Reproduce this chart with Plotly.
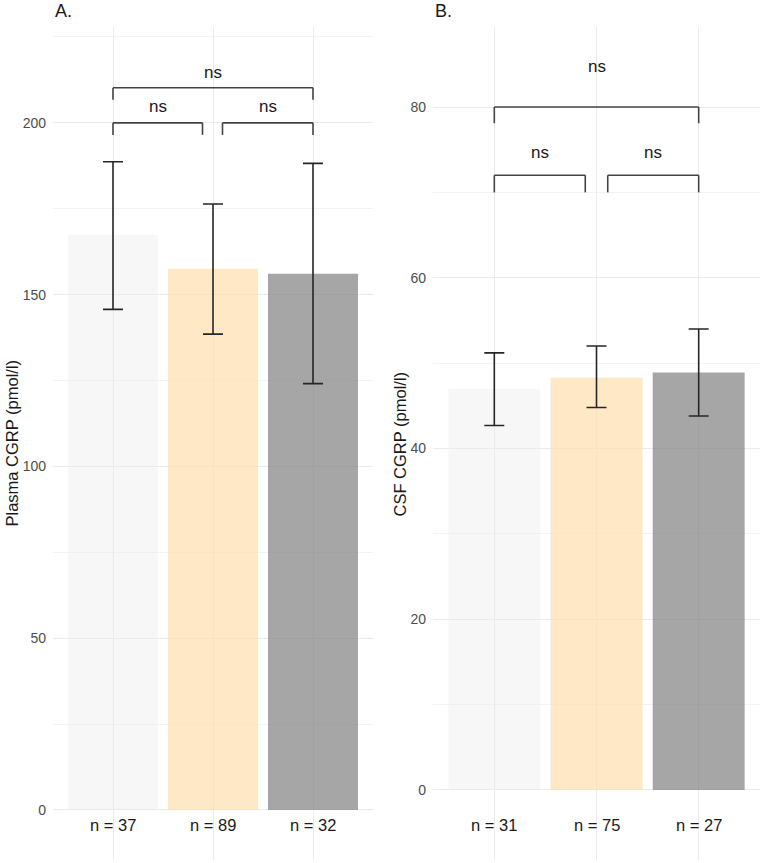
import plotly.graph_objects as go

# ---- data ----
positions = [1, 2, 3]
plasma_n = ["n = 37", "n = 89", "n = 32"]
plasma_mean = [167.4, 157.5, 156.1]
plasma_upper = [188.7, 176.4, 188.2]
plasma_lower = [145.7, 138.5, 124.1]

csf_n = ["n = 31", "n = 75", "n = 27"]
csf_mean = [47.0, 48.3, 48.9]
csf_upper = [51.2, 52.0, 54.0]
csf_lower = [42.7, 44.8, 43.8]

bar_colors = ["rgba(235,235,235,0.4)", "rgba(255,222,173,0.7)", "rgba(128,128,128,0.7)"]

# comparisons: (x0, x1, y, drop, label, label_y)
plasma_brackets = [(1, 1.895, 200.0, 3.5, "ns", 204.7),
                   (2.095, 3, 200.0, 3.5, "ns", 204.7),
                   (1, 3, 210.2, 3.5, "ns", 214.6)]
csf_brackets = [(1, 1.89, 72.0, 2.0, "ns", 74.7),
                (2.11, 3, 72.0, 2.0, "ns", 74.7),
                (1, 3, 80.0, 1.9, "ns", 84.7)]

FONT = "Liberation Sans, Arial, sans-serif"

fig = go.Figure()


def add_panel(xa, ya, mean, up, lo):
    fig.add_trace(go.Bar(
        x=positions, y=mean, width=0.9,
        marker=dict(color=bar_colors, line=dict(width=0)),
        error_y=dict(type="data", symmetric=False,
                     array=[u - m for u, m in zip(up, mean)],
                     arrayminus=[m - l for m, l in zip(mean, lo)],
                     color="#262626", thickness=1.6, width=10),
        xaxis=xa, yaxis=ya, showlegend=False, hoverinfo="skip"))


add_panel("x", "y", plasma_mean, plasma_upper, plasma_lower)
add_panel("x2", "y2", csf_mean, csf_upper, csf_lower)

shapes = []
annotations = []


def add_brackets(br, xref, yref):
    for x0, x1, y, d, lab, ly in br:
        for (a, b, c, e) in [(x0, y - d, x0, y), (x0, y, x1, y), (x1, y, x1, y - d)]:
            shapes.append(dict(type="line", xref=xref, yref=yref, x0=a, y0=b, x1=c, y1=e,
                               line=dict(color="#444444", width=1.6)))
        annotations.append(dict(x=(x0 + x1) / 2 if x1 - x0 < 1.5 else 2, y=ly,
                                xref=xref, yref=yref, text=lab, showarrow=False,
                                font=dict(size=17, color="#1a1a1a", family=FONT),
                                xanchor="center", yanchor="middle"))


add_brackets(plasma_brackets, "x", "y")
add_brackets(csf_brackets, "x2", "y2")

for p, lab in zip(positions, plasma_n):
    annotations.append(dict(x=p, y=-4.4, xref="x", yref="y", text=lab, showarrow=False,
                            font=dict(size=16.5, color="#1a1a1a", family=FONT),
                            xanchor="center", yanchor="middle"))
for p, lab in zip(positions, csf_n):
    annotations.append(dict(x=p, y=-4.1, xref="x2", yref="y2", text=lab, showarrow=False,
                            font=dict(size=16.5, color="#1a1a1a", family=FONT),
                            xanchor="center", yanchor="middle"))

# panel tags
annotations.append(dict(x=53 / 762, y=1 - 11 / 863, xref="paper", yref="paper", text="A.",
                        showarrow=False, font=dict(size=18, color="#1a1a1a", family=FONT),
                        xanchor="left", yanchor="middle"))
annotations.append(dict(x=433 / 762, y=1 - 11 / 863, xref="paper", yref="paper", text="B.",
                        showarrow=False, font=dict(size=18, color="#1a1a1a", family=FONT),
                        xanchor="left", yanchor="middle"))
# y titles
ymid = 0.5 * ((1 - 27 / 863) + (1 - 860 / 863))
annotations.append(dict(x=11 / 762, y=ymid, xref="paper", yref="paper",
                        text="Plasma CGRP (pmol/l)", textangle=-90, showarrow=False,
                        font=dict(size=16.5, color="#1a1a1a", family=FONT),
                        xanchor="center", yanchor="middle"))
annotations.append(dict(x=399 / 762, y=ymid, xref="paper", yref="paper",
                        text="CSF CGRP (pmol/l)", textangle=-90, showarrow=False,
                        font=dict(size=16.5, color="#1a1a1a", family=FONT),
                        xanchor="center", yanchor="middle"))

ydom = [1 - 860 / 863, 1 - 27 / 863]
xcommon = dict(range=[0.4, 3.6], tickvals=positions, showticklabels=False, showgrid=True,
               gridcolor="#ebebeb", gridwidth=1, zeroline=False, showline=False, ticks="")
ycommon = dict(showgrid=True, gridcolor="#ebebeb", gridwidth=1, zeroline=False, showline=False,
               ticks="", tickfont=dict(size=14, color="#4d4d4d", family=FONT),
               ticklabelstandoff=6)

fig.update_layout(
    width=762, height=863,
    margin=dict(l=0, r=0, t=0, b=0),
    paper_bgcolor="white", plot_bgcolor="white",
    bargap=0.1,
    shapes=shapes, annotations=annotations,
    xaxis=dict(domain=[53 / 762, 373 / 762], anchor="y", **xcommon),
    xaxis2=dict(domain=[433 / 762, 760 / 762], anchor="y2", **xcommon),
    yaxis=dict(domain=ydom, anchor="x", range=[-14.56, 227.9], tickvals=[0, 50, 100, 150, 200],
               minor=dict(tickvals=[25, 75, 125, 175, 225], showgrid=True, gridcolor="#f3f3f3", gridwidth=1),
               **ycommon),
    yaxis2=dict(domain=ydom, anchor="x2", range=[-8.2, 89.37], tickvals=[0, 20, 40, 60, 80],
                minor=dict(tickvals=[10, 30, 50, 70], showgrid=True, gridcolor="#f3f3f3", gridwidth=1),
                **ycommon),
)

fig.write_html("out.html", config={"displayModeBar": False},
               post_script="document.body.style.margin='0px';")
